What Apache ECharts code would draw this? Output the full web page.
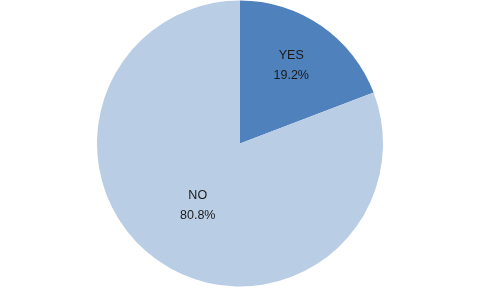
<!DOCTYPE html>
<html>
<head>
<meta charset="utf-8">
<script src="https://cdn.jsdelivr.net/npm/echarts@6/dist/echarts.min.js"></script>
<style>html,body{margin:0;padding:0;background:#fff}#c{width:480px;height:288px}</style>
</head>
<body>
<div id="c"></div>
<script>
const categories = ['YES', 'NO'];
const values = [19.2, 80.8];
const colors = ['#4F81BD', '#B9CDE5'];
const labelShift = [[9, -17], [0, 1]];

const chart = echarts.init(document.getElementById('c'), null, {renderer: 'canvas'});
chart.setOption({
  animation: false,
  backgroundColor: '#fff',
  series: [{
    type: 'pie',
    center: [240, 143.5],
    radius: [0, 143],
    startAngle: 90,
    clockwise: true,
    data: categories.map((c, i) => ({name: c, value: values[i], itemStyle: {color: colors[i]}})),
    itemStyle: {borderWidth: 0},
    label: {
      show: true,
      position: 'inside',
      formatter: p => p.name + '\n' + p.value.toFixed(1) + '%',
      color: '#1a1a1a',
      fontFamily: 'Liberation Sans',
      fontSize: 12.5,
      lineHeight: 20,
      align: 'center'
    },
    labelLine: {show: false},
    labelLayout: p => ({dx: labelShift[p.dataIndex][0], dy: labelShift[p.dataIndex][1]}),
    emphasis: {disabled: true}
  }]
});
</script>
</body>
</html>
